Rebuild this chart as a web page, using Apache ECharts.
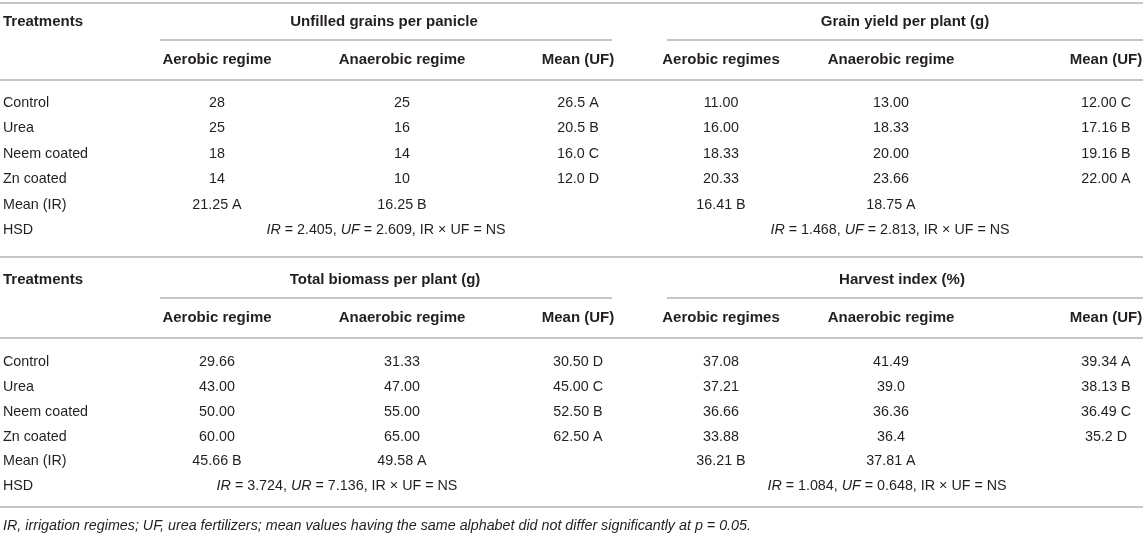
<!DOCTYPE html>
<html>
<head>
<meta charset="utf-8">
<script src="https://cdn.jsdelivr.net/npm/echarts@6/dist/echarts.min.js"></script>
<style>
html, body { margin: 0; padding: 0; background: #fff; }
#main { width: 1143px; height: 540px; }
</style>
</head>
<body>
<div id="main"></div>
<script>
// table data
var treatments = ['Control', 'Urea', 'Neem coated', 'Zn coated', 'Mean (IR)', 'HSD'];
var subHeadsLeft = ['Aerobic regime', 'Anaerobic regime', 'Mean (UF)'];
var subHeadsRight = ['Aerobic regimes', 'Anaerobic regime', 'Mean (UF)'];

var unfilledAerobic = ['28', '25', '18', '14', '21.25 A'];
var unfilledAnaerobic = ['25', '16', '14', '10', '16.25 B'];
var unfilledMean = ['26.5 A', '20.5 B', '16.0 C', '12.0 D', ''];

var yieldAerobic = ['11.00', '16.00', '18.33', '20.33', '16.41 B'];
var yieldAnaerobic = ['13.00', '18.33', '20.00', '23.66', '18.75 A'];
var yieldMean = ['12.00 C', '17.16 B', '19.16 B', '22.00 A', ''];

var biomassAerobic = ['29.66', '43.00', '50.00', '60.00', '45.66 B'];
var biomassAnaerobic = ['31.33', '47.00', '55.00', '65.00', '49.58 A'];
var biomassMean = ['30.50 D', '45.00 C', '52.50 B', '62.50 A', ''];

var harvestAerobic = ['37.08', '37.21', '36.66', '33.88', '36.21 B'];
var harvestAnaerobic = ['41.49', '39.0', '36.36', '36.4', '37.81 A'];
var harvestMean = ['39.34 A', '38.13 B', '36.49 C', '35.2 D', ''];

var hsdUnfilled = '{i|IR} = 2.405, {i|UF} = 2.609, IR × UF = NS';
var hsdYield = '{i|IR} = 1.468, {i|UF} = 2.813, IR × UF = NS';
var hsdBiomass = '{i|IR} = 3.724, {i|UR} = 7.136, IR × UF = NS';
var hsdHarvest = '{i|IR} = 1.084, {i|UF} = 0.648, IR × UF = NS';

var footnote = 'IR, irrigation regimes; UF, urea fertilizers; mean values having the same alphabet did not differ significantly at p = 0.05.';

// layout (page units, mapped through the hidden value axes)
var W = 1143, H = 540;
var colX = [217, 402, 578, 721, 891, 1106];
var groupSpan = [[160, 612], [667, 1143]];
var blocks = [
	{ title: 22, group: 40, sub: 60, rule: 80, rows: [103, 128.5, 154, 179.5, 205, 230.5], titleX: [384, 905], hsdX: [386, 890],
		groups: [['Unfilled grains per panicle', unfilledAerobic, unfilledAnaerobic, unfilledMean, hsdUnfilled],
			['Grain yield per plant (g)', yieldAerobic, yieldAnaerobic, yieldMean, hsdYield]] },
	{ title: 280, group: 298, sub: 318, rule: 338, rows: [362, 387, 412, 437, 461.5, 486], titleX: [385, 902], hsdX: [337, 887],
		groups: [['Total biomass per plant (g)', biomassAerobic, biomassAnaerobic, biomassMean, hsdBiomass],
			['Harvest index (%)', harvestAerobic, harvestAnaerobic, harvestMean, hsdHarvest]] }
];
var topRule = 3, midRule = 257, endRule = 507, footY = 526;

var cells = [];
var rules = [];
rules.push([0, topRule, W], [0, midRule, W], [0, endRule, W]);

blocks.forEach(function(b) {
	cells.push({ x: 3, y: b.title, text: 'Treatments', align: 'left', bold: true });
	rules.push([0, b.rule, W]);
	b.groups.forEach(function(g, gi) {
		var heads = gi == 0 ? subHeadsLeft : subHeadsRight;
		cells.push({ x: b.titleX[gi], y: b.title, text: g[0], align: 'center', bold: true });
		rules.push([groupSpan[gi][0], b.group, groupSpan[gi][1]]);
		for (var c = 0; c < 3; c++) {
			var x = colX[gi * 3 + c];
			cells.push({ x: x, y: b.sub, text: heads[c], align: 'center', bold: true });
			var vals = g[c + 1];
			for (var r = 0; r < vals.length; r++) {
				if (vals[r] !== '') {
					cells.push({ x: x, y: b.rows[r], text: vals[r], align: 'center' });
				}
			}
		}
		cells.push({ x: b.hsdX[gi], y: b.rows[5], text: g[4], align: 'center' });
	});
	for (var r = 0; r < treatments.length; r++) {
		cells.push({ x: 3, y: b.rows[r], text: treatments[r], align: 'left' });
	}
});
cells.push({ x: 3, y: footY, text: footnote, align: 'left', italic: true });

var fontFamily = '"Liberation Sans", Arial, Helvetica, sans-serif';
var chart = echarts.init(document.getElementById('main'));

var option = {
	animation: false,
	grid: { left: 0, right: 0, top: 0, bottom: 0 },
	xAxis: { type: 'value', min: 0, max: W, show: false },
	yAxis: { type: 'value', min: 0, max: H, inverse: true, show: false },
	series: [{
		type: 'custom',
		silent: true,
		data: rules,
		renderItem: function(params, api) {
			var p1 = api.coord([api.value(0), api.value(1)]);
			var p2 = api.coord([api.value(2), api.value(1)]);
			return {
				type: 'line',
				shape: { x1: p1[0], y1: p1[1], x2: p2[0], y2: p2[1] },
				style: { stroke: '#b3b3b3', lineWidth: 1.6 }
			};
		}
	}, {
		type: 'custom',
		silent: true,
		data: cells.map(function(c) { return [c.x, c.y]; }),
		renderItem: function(params, api) {
			var c = cells[params.dataIndex];
			var p = api.coord([api.value(0), api.value(1)]);
			var size = c.bold ? 15 : 14.3;
			return {
				type: 'text',
				x: p[0],
				y: p[1],
				style: {
					text: c.text,
					fill: '#231f20',
					fontFamily: fontFamily,
					fontSize: size,
					fontWeight: c.bold ? 'bold' : 'normal',
					fontStyle: c.italic ? 'italic' : 'normal',
					align: c.align,
					verticalAlign: 'middle',
					rich: {
						i: { fontStyle: 'italic', fontFamily: fontFamily, fontSize: size, fill: '#231f20' }
					}
				}
			};
		}
	}]
};

chart.setOption(option);
</script>
</body>
</html>
